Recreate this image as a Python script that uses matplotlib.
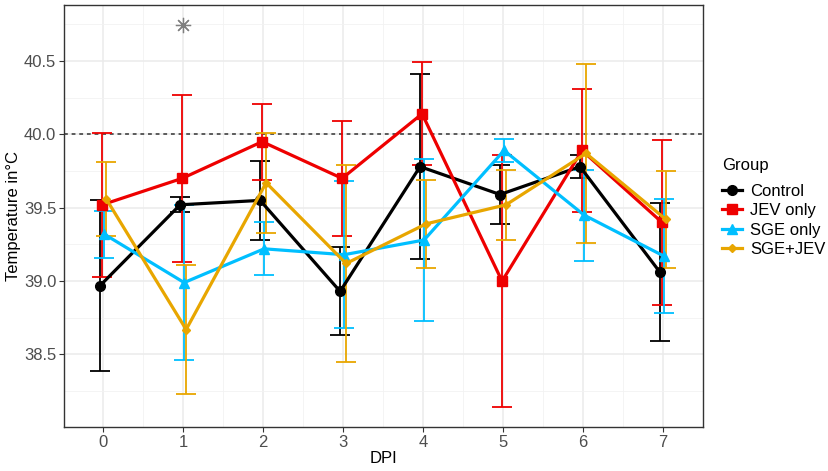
import matplotlib
matplotlib.use("Agg")
import matplotlib.pyplot as plt
import numpy as np
from matplotlib.ticker import MultipleLocator

plt.rcParams['font.family'] = ['Liberation Sans', 'DejaVu Sans']

dpi_days = [0, 1, 2, 3, 4, 5, 6, 7]
groups = ["Control", "JEV only", "SGE only", "SGE+JEV"]

control_mean = [38.97, 39.52, 39.55, 38.93, 39.78, 39.59, 39.78, 39.06]
control_sd   = [0.58, 0.05, 0.27, 0.30, 0.63, 0.20, 0.08, 0.47]
jev_mean     = [39.52, 39.70, 39.95, 39.70, 40.14, 39.00, 39.89, 39.40]
jev_sd       = [0.49, 0.57, 0.26, 0.39, 0.35, 0.86, 0.42, 0.56]
sge_mean     = [39.32, 38.99, 39.22, 39.18, 39.28, 39.89, 39.45, 39.17]
sge_sd       = [0.16, 0.53, 0.18, 0.50, 0.55, 0.08, 0.31, 0.39]
sgejev_mean  = [39.56, 38.67, 39.67, 39.12, 39.39, 39.52, 39.87, 39.42]
sgejev_sd    = [0.25, 0.44, 0.34, 0.67, 0.30, 0.24, 0.61, 0.33]

star_x = [1]
star_y = [40.745]
threshold = 40.0

means = [control_mean, jev_mean, sge_mean, sgejev_mean]
sds = [control_sd, jev_sd, sge_sd, sgejev_sd]
colors = ["#000000", "#EE0000", "#00BFFF", "#E8A600"]
markers = ["o", "s", "^", "D"]
msizes = [7, 7.5, 7.5, 4.5]
offsets = [-0.0375, -0.0125, 0.0125, 0.0375]

W, H = 829, 471
fig = plt.figure(figsize=(W / 100, H / 100), dpi=100)
ax = fig.add_axes([0.0772, 0.0928, 0.848 - 0.0772, 0.9887 - 0.0928])

x = np.array(dpi_days, dtype=float)
for m, s, c, mk, ms, off, g in zip(means, sds, colors, markers, msizes, offsets, groups):
    xx = x + off
    ax.errorbar(xx, m, yerr=s, fmt="none", ecolor=c, elinewidth=1.3,
                capsize=7.5, capthick=1.3, zorder=3)
    ax.plot(xx, m, color=c, lw=2.3, marker=mk, ms=ms, label=g, zorder=4)

ax.axhline(threshold, color="#333333", lw=1.1, ls=(0, (2.5, 2.5)), zorder=2)
ax.plot(star_x, star_y, ls="none", marker=(8, 2, 0), ms=11, mew=0.9,
        color="#7F7F7F", zorder=5)

ax.set_xlim(-0.49, 7.5)
ax.set_ylim(38.004, 40.879)
ax.set_xticks(dpi_days)
ax.set_yticks([38.5, 39.0, 39.5, 40.0, 40.5])
ax.set_yticklabels(["38.5", "39.0", "39.5", "40.0", "40.5"])
ax.xaxis.set_minor_locator(MultipleLocator(0.5))
ax.yaxis.set_minor_locator(MultipleLocator(0.25))
ax.grid(which="major", color="#EBEBEB", lw=1.1, zorder=0)
ax.grid(which="minor", color="#F2F2F2", lw=0.6, zorder=0)
ax.set_axisbelow(True)
ax.tick_params(axis="both", which="major", labelsize=12, colors="#333333",
               labelcolor="#4D4D4D", length=3.5, width=0.8, pad=2)
ax.tick_params(axis="both", which="minor", length=0)
for sp in ax.spines.values():
    sp.set_color("#333333")
    sp.set_linewidth(1.0)

ax.set_xlabel("DPI", fontsize=12, labelpad=1)
ax.set_ylabel("Temperature in°C", fontsize=12, labelpad=2)

fig.text(722.5 / W, 1 - 166 / H, "Group", fontsize=12, ha="left", va="center")
leg = ax.legend(loc="upper left", bbox_to_anchor=(1.029, 0.577),
                frameon=False, fontsize=12, borderpad=0,
                handlelength=1.2, handletextpad=0.5, labelspacing=0.27,
                borderaxespad=0)

fig.savefig("out.png", dpi=100)
